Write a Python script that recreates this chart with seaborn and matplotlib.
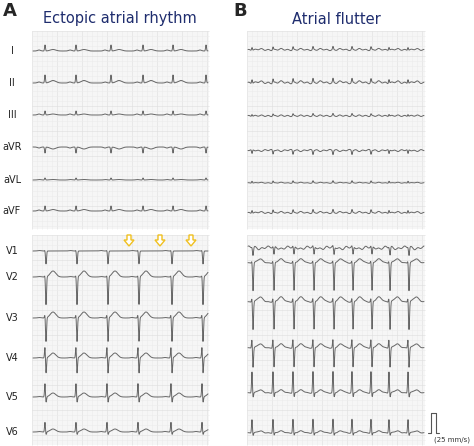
import numpy as np
import matplotlib.pyplot as plt
import seaborn as sns
import pandas as pd

sns.set_style('white')

# lead names and baselines (pixel rows) for each panel
leads = ['I', 'II', 'III', 'aVR', 'aVL', 'aVF', 'V1', 'V2', 'V3', 'V4', 'V5', 'V6']
base_a = [51, 83, 115, 147, 180, 211, 251, 277, 318, 358, 397, 432]
base_b = [50, 83, 116, 150, 183, 213, 247, 263, 302, 348, 393, 433]

# beat positions (px)
beats_a_limb = [45, 76, 111, 143, 173, 206]
beats_a_prec = [45, 76, 107, 138, 171, 202]
beats_b = [252, 273, 293, 313, 333, 352, 371, 389, 408]

# amplitudes per lead (px, positive = up)
r_a = [6, 8, 4, -6, 2, 5, 1, 2, 4, 12, 14, 10]
s_a = [0, 0, 0, 0, 0, 0, 13, 28, 24, 16, 6, 3]
t_a = [1.5, 2.5, 1, -2, 0.5, 1.5, 0, 6, 6, 5, 4, 3]
p_a = [1, 1, 1, -1, 0.5, 1, 0.5, 0.5, 0.5, 0.5, 0.5, 0.5]

r_b = [3, 4, 2, -4, 2, 3, 1, 3, 5, 10, 22, 14]
s_b = [0, 0, 0, 0, 0, 0, 8, 28, 28, 20, 5, 3]
t_b = [1, 1.5, 0.5, -1, 0.5, 1, -2, 4, 5, 4, 3, 2]
f_b = [0.6, 0.8, 0.6, -0.6, 0.3, 0.6, 1.0, 0.3, 0.3, 0.3, 0.3, 0.3]

grid_a = (32, 209)
grid_b = (247, 425)
top_box = (31, 229)
bot_box = (235, 445)


def g(x, mu, sd):
    return np.exp(-0.5 * ((x - mu) / sd) ** 2)


def trace(x, beats, r, s, t, p):
    y = np.zeros_like(x)
    for b in beats:
        y += p * g(x, b - 6, 1.5)
        y += r * g(x, b, 0.45)
        y -= s * g(x, b + 1.0, 0.5)
        y += t * g(x, b + 8, 2.8)
    return y


fig = plt.figure(figsize=(4.74, 4.46), dpi=100)
ax = fig.add_axes([0, 0, 1, 1])

# paper grids
for x0, x1 in [grid_a, grid_b]:
    for y0, y1 in [top_box, bot_box]:
        ax.add_patch(plt.Rectangle((x0, y0), x1 - x0, y1 - y0, fc='#f6f6f6', ec='none', zorder=0))
        for k, xx in enumerate(np.arange(x0, x1, 5)):
            c = '#dedede' if k % 5 == 0 else '#ececec'
            ax.plot([xx, xx], [y0, y1], color=c, lw=0.4, zorder=1)
        for k, yy in enumerate(np.arange(y0, y1, 5)):
            c = '#dedede' if k % 5 == 0 else '#ececec'
            ax.plot([x0, x1], [yy, yy], color=c, lw=0.4, zorder=1)

rows = []
for i, name in enumerate(leads):
    beats = beats_a_limb if i < 6 else beats_a_prec
    x = np.linspace(grid_a[0] + 1, grid_a[1] - 1, 1400)
    y = base_a[i] - trace(x, beats, r_a[i], s_a[i], t_a[i], p_a[i])
    rows.append(pd.DataFrame({'x': x, 'y': y, 'lead': 'A' + name}))
    x = np.linspace(grid_b[0] + 1, grid_b[1] - 1, 1400)
    flutter = f_b[i] * np.sin((x - 247) / 6.5 * 2 * np.pi)
    y = base_b[i] - trace(x, beats_b, r_b[i], s_b[i], t_b[i], 0) - flutter
    rows.append(pd.DataFrame({'x': x, 'y': y, 'lead': 'B' + name}))
    ax.text(12, base_a[i], name, ha='center', va='center', fontsize=7, color='#222222')
df = pd.concat(rows)
sns.lineplot(data=df, x='x', y='y', units='lead', estimator=None, sort=False,
             color='#666666', lw=0.7, ax=ax, zorder=3)
ax.set_xlim(0, 474)
ax.set_ylim(446, 0)
ax.axis('off')

# panel labels and titles
ax.text(3, 11, 'A', fontsize=13, fontweight='bold', va='center')
ax.text(233, 11, 'B', fontsize=13, fontweight='bold', va='center')
ax.text(120, 19, 'Ectopic atrial rhythm', fontsize=10.5, color='#1f2d6e', ha='center', va='center')
ax.text(336, 19, 'Atrial flutter', fontsize=10.5, color='#1f2d6e', ha='center', va='center')

# hollow block arrows
for cx in [129, 160, 191]:
    xs = [cx - 2, cx + 2, cx + 2, cx + 5, cx, cx - 5, cx - 2, cx - 2]
    ys = [235, 235, 240, 240, 246, 240, 240, 235]
    ax.add_patch(plt.Polygon(list(zip(xs, ys)), fc='white', ec='#f0c020', lw=1, zorder=4))

# calibration pulse
ax.plot([428, 431, 431, 436, 436, 439], [433, 433, 413, 413, 433, 433], color='#555555', lw=0.8)
ax.text(452, 440, '(25 mm/s)', fontsize=5, ha='center', va='center', color='#333333')

fig.savefig('out.png', dpi=100)
